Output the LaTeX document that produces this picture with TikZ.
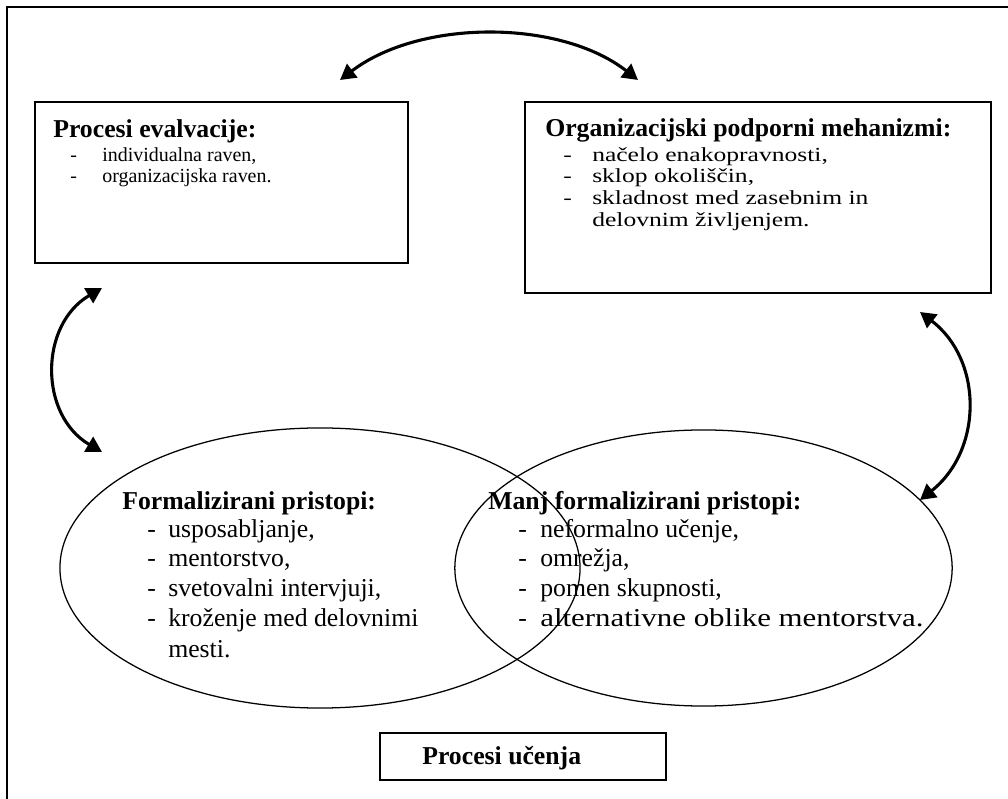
\documentclass[tikz,border=0pt]{standalone}
\usepackage{fontspec}
\setmainfont{Liberation Serif}
\newfontfamily\wideserif[FakeStretch=1.28]{Liberation Serif}
\newfontfamily\broadserif[FakeStretch=1.2]{Liberation Serif}
\usetikzlibrary{arrows.meta,shapes.geometric}

\newcommand{\headfont}{\fontsize{18.3}{21}\selectfont\bfseries}
\newcommand{\smallbody}{\fontsize{14.2}{16}\selectfont}
\newcommand{\widebody}{\fontsize{14.2}{16}\selectfont\wideserif}
\newcommand{\bigbody}{\fontsize{18.3}{21}\selectfont}

\begin{document}
\begin{tikzpicture}[x=0.025cm,y=-0.025cm,
	box/.style={draw=black,shape=rectangle,line width=1.1pt,anchor=north west,inner sep=0pt},
	oval/.style={draw=black,shape=ellipse,line width=0.9pt,inner sep=0pt},
	txt/.style={anchor=base west,inner sep=0pt},
	link/.style={line width=2.2pt,<->,>={Triangle[length=11pt,width=12pt]}}]
	
	\useasboundingbox (0,0) rectangle (1008,799);
	\draw[line width=1.4pt] (1008,7) -- (7,7) -- (7,799);
	
	% boxes and ovals
	\node[box,minimum width=9.325cm,minimum height=4.025cm] (eval)  at (34,101)  {};
	\node[box,minimum width=11.65cm,minimum height=4.775cm] (org)   at (524,101) {};
	\node[oval,minimum width=13cm,minimum height=7cm]       (formal) at (320,568) {};
	\node[oval,minimum width=12.43cm,minimum height=6.9cm]  (informal) at (703.5,568) {};
	\node[box,minimum width=7.15cm,minimum height=1.175cm]  (learn) at (379,732) {};
	
	% texts
	\node[txt,font=\headfont] (evalhead) at (53,138) {Procesi evalvacije:};
	\foreach \y/\t [count=\i] in {162/{individualna raven,},183/{organizacijska raven.}}
		\node[txt,font=\smallbody] (evalitem\i) at (70,\y) {\makebox[0.8cm][l]{-}\t};
	
	\node[txt,font=\headfont] (orghead) at (545,137) {Organizacijski podporni mehanizmi:};
	\foreach \y/\d/\t [count=\i] in {162/-/{načelo enakopravnosti,},183/-/{sklop okoliščin,},
			205/-/{skladnost med zasebnim in},227//{delovnim življenjem.}}
		\node[txt,font=\widebody] (orgitem\i) at (563,\y) {\makebox[0.725cm][l]{\d}\t};
	
	\node[txt,font=\headfont] (formalhead) at (122,510) {Formalizirani pristopi:};
	\foreach \y/\d/\t [count=\i] in {538/-/{usposabljanje,},567/-/{mentorstvo,},597/-/{svetovalni intervjuji,},
			627/-/{kroženje med delovnimi},658//{mesti.}}
		\node[txt,font=\bigbody] (formalitem\i) at (147,\y) {\makebox[0.525cm][l]{\d}\t};
	
	\node[txt,font=\headfont] (informalhead) at (488,510) {Manj formalizirani pristopi:};
	\foreach \y/\t [count=\i] in {538/{neformalno učenje,},567/{omrežja,},597/{pomen skupnosti,},
			627/{{\broadserif alternativne oblike mentorstva.}}}
		\node[txt,font=\bigbody] (informalitem\i) at (518,\y) {\makebox[0.55cm][l]{-}\t};
	
	\node[txt,font=\headfont] (learnhead) at (422,765) {Procesi učenja};
	
	% arrows
	\coordinate (evaltop) at (340,80);
	\coordinate (orgtop) at (638,80);
	\coordinate (evalbot) at (102,288);
	\coordinate (formaltop) at (102,452);
	\coordinate (orgbot) at (920,312);
	\coordinate (informaltop) at (920,500);
	
	\draw[link] (evaltop) .. controls (420,19) and (560,19) .. (orgtop);
	\draw[link] (evalbot) .. controls (39,325) and (39,415) .. (formaltop);
	\draw[link] (orgbot) .. controls (983,360) and (983,450) .. (informaltop);
	
\end{tikzpicture}
\end{document}
